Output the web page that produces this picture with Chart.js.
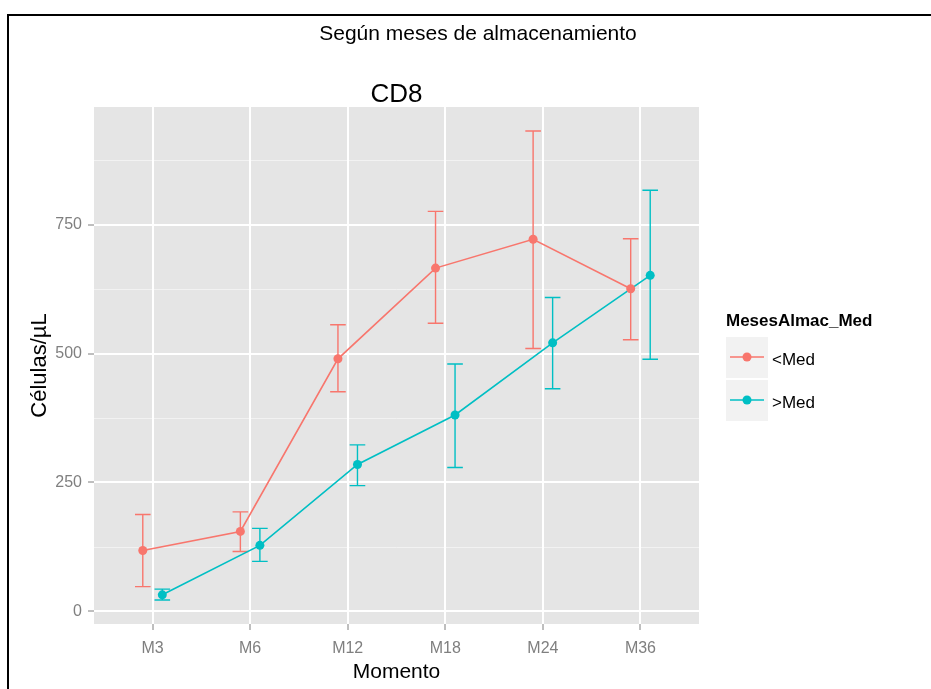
<!DOCTYPE html>
<html>
<head>
<meta charset="utf-8">
<script src="https://cdn.jsdelivr.net/npm/chart.js@4.4.0/dist/chart.umd.min.js"></script>
<style>
  html, body { margin: 0; padding: 0; background: #ffffff; }
  #wrap { width: 931px; height: 689px; position: relative; }
</style>
</head>
<body>
<div id="wrap"><canvas id="c" width="931" height="689"></canvas></div>
<script>
// Storage-time groups: mean CD8 count with lower/upper error limits per time point
const categories = ['M3', 'M6', 'M12', 'M18', 'M24', 'M36'];
const groupNames = ['<Med', '>Med'];
const lowMean  = [118, 155, 490, 666, 722, 626];
const lowLower = [48, 116, 426, 559, 510, 527];
const lowUpper = [188, 193, 556, 776, 932, 723];
const highMean  = [32, 128, 285, 381, 521, 652];
const highLower = [22, 97, 244, 279, 432, 489];
const highUpper = [43, 161, 323, 480, 609, 817];
const yTicks = [0, 250, 500, 750];
const yMinorTicks = [125, 375, 625, 875];

const RED = '#F8766D';
const CYAN = '#00BFC4';
const FONT = '"Liberation Sans", Arial, Helvetica, sans-serif';
const DODGE = 0.1;

function pts(values, shift) {
  return values.map((v, i) => ({ x: i + 1 + shift, y: v }));
}

const series = [
  { label: groupNames[0], color: RED,  mean: lowMean,  lower: lowLower,  upper: lowUpper,  shift: -DODGE },
  { label: groupNames[1], color: CYAN, mean: highMean, lower: highLower, upper: highUpper, shift: DODGE }
];

// panel background plus minor grid lines
const panelPlugin = {
  id: 'panel',
  beforeDraw(chart) {
    const { ctx, chartArea: a, scales } = chart;
    ctx.save();
    ctx.fillStyle = '#E5E5E5';
    ctx.fillRect(a.left, a.top, a.right - a.left, a.bottom - a.top);
    ctx.strokeStyle = '#F2F2F2';
    ctx.lineWidth = 1;
    yMinorTicks.forEach(v => {
      const y = Math.round(scales.y.getPixelForValue(v)) + 0.5;
      ctx.beginPath();
      ctx.moveTo(a.left, y);
      ctx.lineTo(a.right, y);
      ctx.stroke();
    });
    ctx.restore();
  }
};

// vertical error bars with caps, drawn beneath lines and points
const errorBarPlugin = {
  id: 'errorBars',
  beforeDatasetsDraw(chart) {
    const { ctx, scales } = chart;
    ctx.save();
    ctx.lineWidth = 1.4;
    series.forEach(s => {
      ctx.strokeStyle = s.color;
      s.mean.forEach((m, i) => {
        const x = scales.x.getPixelForValue(i + 1 + s.shift);
        const xl = scales.x.getPixelForValue(i + 1 + s.shift - 0.08);
        const xr = scales.x.getPixelForValue(i + 1 + s.shift + 0.08);
        const yl = scales.y.getPixelForValue(s.lower[i]);
        const yu = scales.y.getPixelForValue(s.upper[i]);
        ctx.beginPath();
        ctx.moveTo(x, yl); ctx.lineTo(x, yu);
        ctx.moveTo(xl, yl); ctx.lineTo(xr, yl);
        ctx.moveTo(xl, yu); ctx.lineTo(xr, yu);
        ctx.stroke();
      });
    });
    ctx.restore();
  }
};

// titles, axis titles, legend and outer frame
const decorPlugin = {
  id: 'decor',
  afterDraw(chart) {
    const { ctx, chartArea: a } = chart;
    ctx.save();
    ctx.fillStyle = '#000';
    ctx.textAlign = 'center';
    ctx.textBaseline = 'middle';
    ctx.font = '21px ' + FONT;
    ctx.fillText('Según meses de almacenamiento', 478, 34);
    ctx.font = '26px ' + FONT;
    ctx.fillText('CD8', (a.left + a.right) / 2, 95);
    ctx.font = '21px ' + FONT;
    ctx.fillText('Momento', (a.left + a.right) / 2, 672);
    ctx.save();
    ctx.translate(40, (a.top + a.bottom) / 2);
    ctx.rotate(-Math.PI / 2);
    ctx.font = '22px ' + FONT;
    ctx.fillText('Células/µL', 0, 0);
    ctx.restore();

    // legend
    ctx.textAlign = 'left';
    ctx.font = 'bold 17px ' + FONT;
    ctx.fillText('MesesAlmac_Med', 726, 321);
    series.forEach((s, k) => {
      const top = 337 + k * 43;
      ctx.fillStyle = '#F2F2F2';
      ctx.fillRect(726, top, 42, 41);
      const cy = top + 20;
      ctx.strokeStyle = s.color;
      ctx.lineWidth = 1.6;
      ctx.beginPath();
      ctx.moveTo(730, cy); ctx.lineTo(764, cy);
      ctx.stroke();
      ctx.fillStyle = s.color;
      ctx.beginPath();
      ctx.arc(747, cy, 4.5, 0, Math.PI * 2);
      ctx.fill();
      ctx.fillStyle = '#000';
      ctx.font = '17px ' + FONT;
      ctx.fillText(s.label, 772, cy + 3);
    });

    // outer frame
    ctx.fillStyle = '#000';
    ctx.fillRect(7, 14, 931 - 7, 2);
    ctx.fillRect(7, 14, 2, 689 - 14);
    ctx.restore();
  }
};

const tickFont = { family: FONT, size: 16 };

new Chart(document.getElementById('c'), {
  type: 'line',
  data: {
    datasets: series.map(s => ({
      label: s.label,
      data: pts(s.mean, s.shift),
      borderColor: s.color,
      backgroundColor: s.color,
      borderWidth: 1.6,
      pointRadius: 4.5,
      pointBorderWidth: 0,
      pointHoverRadius: 4.5,
      tension: 0
    }))
  },
  options: {
    responsive: false,
    animation: false,
    devicePixelRatio: 1,
    layout: { padding: { top: 107, right: 232, bottom: 0, left: 0 } },
    plugins: { legend: { display: false }, title: { display: false }, tooltip: { enabled: false } },
    scales: {
      x: {
        type: 'linear',
        min: 0.4,
        max: 6.6,
        afterBuildTicks(scale) { scale.ticks = categories.map((_, i) => ({ value: i + 1 })); },
        afterFit(scale) { scale.height = 65; },
        ticks: {
          callback: v => categories[Math.round(v) - 1],
          color: '#7F7F7F',
          font: tickFont,
          padding: 9,
          maxRotation: 0,
          autoSkip: false
        },
        grid: { color: '#FFFFFF', lineWidth: 2, tickColor: '#7F7F7F', tickWidth: 1, tickLength: 6 },
        border: { display: false }
      },
      y: {
        min: -24.6,
        max: 978.6,
        afterBuildTicks(scale) { scale.ticks = yTicks.map(v => ({ value: v })); },
        afterFit(scale) { scale.width = 94; },
        ticks: { color: '#7F7F7F', font: tickFont, padding: 6 },
        grid: { color: '#FFFFFF', lineWidth: 2, tickColor: '#7F7F7F', tickWidth: 1, tickLength: 6 },
        border: { display: false }
      }
    }
  },
  plugins: [panelPlugin, errorBarPlugin, decorPlugin]
});
</script>
</body>
</html>
